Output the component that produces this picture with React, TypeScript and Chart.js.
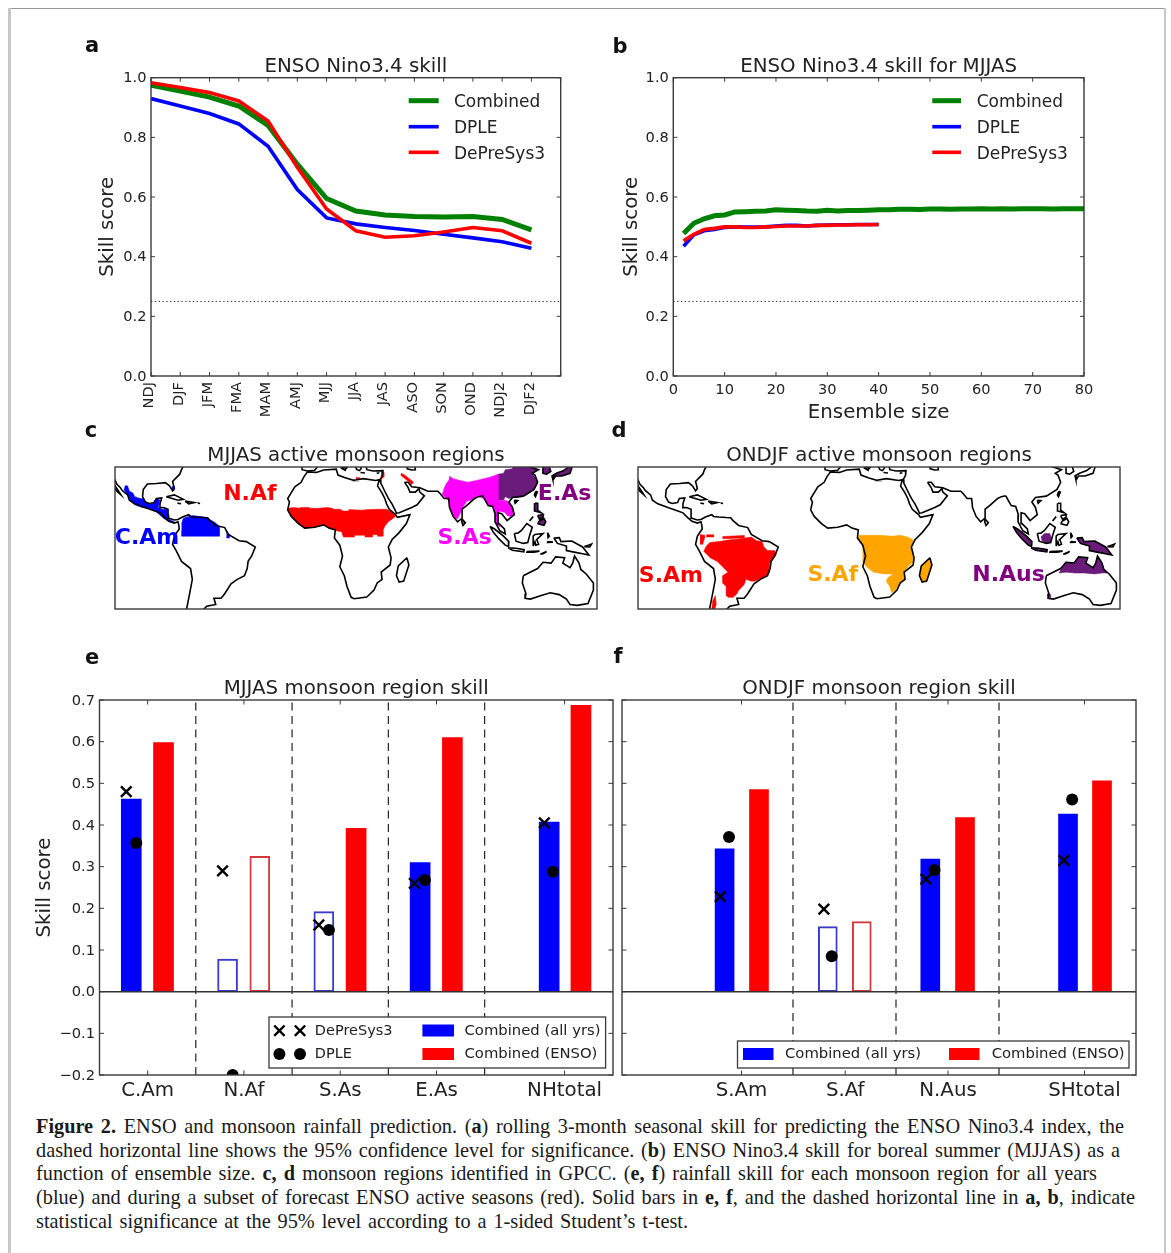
import React, { useEffect, useRef } from "react";
import { Chart, registerables } from "chart.js";

Chart.register(...registerables);

const FONT = "'DejaVu Sans'";
const INK = "#222";
const SPINE = "#3a3a3a";
const TITLE_SIZE = 19.8;
const TICK_SIZE = 14.6;
const TEXT_DY = 2;
const GREEN = "#008000";
const BLUE = "#0000ff";
const RED = "#ff0000";
const PURPLE = "#800080";
const MAGENTA = "#ff00ff";
const ORANGE = "#ffa500";

/* ---------- panels a, b ---------- */
const seasons = ["NDJ", "DJF", "JFM", "FMA", "MAM", "AMJ", "MJJ", "JJA", "JAS", "ASO", "SON", "OND", "NDJ2", "DJF2"];
const seasonCombined = [0.975, 0.955, 0.935, 0.905, 0.84, 0.71, 0.595, 0.553, 0.54, 0.535, 0.533, 0.535, 0.525, 0.49];
const seasonDPLE = [0.93, 0.905, 0.88, 0.845, 0.77, 0.625, 0.53, 0.51, 0.498, 0.488, 0.475, 0.463, 0.45, 0.428];
const seasonDePreSys = [0.983, 0.967, 0.95, 0.922, 0.855, 0.7, 0.56, 0.487, 0.465, 0.47, 0.483, 0.498, 0.487, 0.445];
const significance = 0.25;

const ensembleLong = [2, 4, 6, 8, 10, 12, 14, 16, 18, 20, 22, 24, 26, 28, 30, 32, 34, 36, 38, 40, 42, 44, 46, 48, 50, 52, 54, 56, 58, 60, 62, 64, 66, 68, 70, 72, 74, 76, 78, 80];
const ensembleShort = [2, 4, 6, 8, 10, 12, 14, 16, 18, 20, 22, 24, 26, 28, 30, 32, 34, 36, 38, 40];
const sizeCombined = [0.478, 0.512, 0.527, 0.537, 0.54, 0.55, 0.551, 0.552, 0.553, 0.557, 0.556, 0.555, 0.553, 0.552, 0.556, 0.553, 0.555, 0.555, 0.556, 0.557, 0.557, 0.559, 0.559, 0.558, 0.56, 0.56, 0.559, 0.56, 0.56, 0.561, 0.56, 0.561, 0.56, 0.561, 0.561, 0.561, 0.56, 0.561, 0.561, 0.561];
const sizeDPLE = [0.435, 0.473, 0.487, 0.491, 0.498, 0.5, 0.499, 0.499, 0.5, 0.503, 0.505, 0.505, 0.503, 0.505, 0.506, 0.507, 0.507, 0.508, 0.508, 0.508];
const sizeDePreSys = [0.453, 0.475, 0.491, 0.495, 0.5, 0.5, 0.498, 0.498, 0.5, 0.501, 0.503, 0.503, 0.503, 0.505, 0.505, 0.506, 0.506, 0.507, 0.507, 0.508];

/* ---------- panels e, f ---------- */
const nhRegions = ["C.Am", "N.Af", "S.As", "E.As", "NHtotal"];
const nhTickPos = [0.5, 1.5, 2.5, 3.5, 4.83];
const nhSolidBlue = [[0.33, 0.462], [3.33, 0.31], [4.67, 0.407]];
const nhHollowBlue = [[1.33, 0.078], [2.33, 0.192]];
const nhSolidRed = [[0.665, 0.598], [2.665, 0.392], [3.665, 0.61], [5.0, 0.687]];
const nhHollowRed = [[1.665, 0.325]];
const nhDePreSys = [[0.278, 0.48], [1.278, 0.29], [2.278, 0.16], [3.27, 0.26], [4.62, 0.405]];
const nhDPLE = [[0.382, 0.357], [1.383, -0.2], [2.383, 0.148], [3.38, 0.268], [4.71, 0.288]];
const nhDividers = [1, 2, 3, 4];

const shRegions = ["S.Am", "S.Af", "N.Aus", "SHtotal"];
const shTickPos = [0.5, 1.507, 2.505, 3.83];
const shSolidBlue = [[0.336, 0.343], [2.333, 0.318], [3.67, 0.426]];
const shHollowBlue = [[1.338, 0.156]];
const shSolidRed = [[0.67, 0.485], [2.67, 0.418], [4.0, 0.506]];
const shHollowRed = [[1.668, 0.168]];
const shDePreSys = [[0.294, 0.228], [1.3, 0.198], [2.29, 0.27], [3.63, 0.315]];
const shDPLE = [[0.379, 0.371], [1.376, 0.085], [2.374, 0.292], [3.71, 0.461]];
const shDividers = [1, 2, 3];

/* ---------- maps: coastlines as [lon, lat] ---------- */
type P = number[][];
const pacificAmericas: P = [[-115, 32], [-113, 31.3], [-112, 29], [-110, 27], [-109, 25.5], [-106, 23], [-105, 20], [-102, 18], [-96, 15.8], [-92, 14.5], [-88, 13], [-85.5, 10.5], [-83, 8.3], [-80, 7.3], [-78, 8], [-77.5, 6], [-77.3, 4], [-79, 1.5], [-80, 0], [-81, -4.5], [-79, -8], [-76, -14], [-71, -18], [-70, -24], [-71.5, -32], [-73.5, -42]];
const baja: P = [[-115, 30], [-113, 28], [-111, 25], [-109.7, 23], [-112, 25], [-114, 27.5], [-115, 29]];
const gulfCoast: P = [[-78, 9.3], [-80, 9], [-83, 10], [-83.5, 15], [-86, 16], [-88.5, 15.8], [-88, 18], [-87, 21.3], [-90, 21], [-91, 18.7], [-94, 18.2], [-96, 19], [-97.7, 22], [-97.3, 26], [-95, 29], [-90, 29.3], [-85, 29.8], [-82.7, 28], [-81, 25.2], [-80, 26.5], [-81, 30.5], [-77, 34.5], [-76, 37], [-74, 41]];
const southAtlantic: P = [[-78, 9.3], [-75.5, 10.7], [-72, 12], [-71, 11], [-68, 10.7], [-64, 10.4], [-61.5, 10.3], [-60, 8.5], [-57, 6], [-52, 4.8], [-50, 1], [-44, -2.5], [-40, -3], [-35, -6], [-37, -11], [-39, -14], [-39.5, -18], [-41, -22], [-45, -24], [-48.5, -26.5], [-52, -32], [-54, -34.5], [-58, -34.5], [-57, -38], [-62, -39], [-65, -42]];
const cuba: P = [[-84.5, 22], [-80, 23], [-75, 20.5], [-78, 20], [-84.5, 22]];
const hispaniola: P = [[-74, 19.5], [-69, 18.7], [-72, 18], [-74, 19.5]];
const jamaica: P = [[-78.3, 18.4], [-76.3, 18.1], [-78.3, 18.4]];
const puertoRico: P = [[-67, 18.4], [-65.7, 18.2], [-67, 18.4]];
const africa: P = [[-6, 35.8], [-1, 35.5], [3, 36.8], [10, 37.3], [11, 34], [15, 32.5], [20, 31], [19, 31], [25, 32], [32, 31], [34, 31.5], [33, 28], [35.5, 24], [37, 21], [38, 18], [39.5, 15], [43, 12], [44, 10.5], [51, 12], [49, 7], [45, 2], [41, -2], [39, -6], [40.5, -12], [40, -16], [35, -20], [35.5, -24], [32.8, -26], [31, -30], [27, -33.8], [20, -34.8], [18.3, -34], [16, -28], [14.5, -22], [12, -17], [13.5, -11], [12, -5], [9, -1], [9.5, 3.5], [6, 4.5], [3, 6.3], [-2, 5], [-7.5, 4.5], [-11, 7], [-15, 11], [-17, 14.7], [-16, 19], [-17, 21], [-13, 27.5], [-9.5, 30], [-8, 33], [-6, 35.8]];
const iberia: P = [[-9, 40], [-9, 37], [-6, 36.3], [-2, 36.7], [0, 39], [1, 41]];
const italySouth: P = [[15, 41], [16, 38.2], [17, 39.5], [18.3, 40.2], [19, 41]];
const sicily: P = [[12.5, 38], [15.5, 38.2], [15, 36.7], [12.5, 38]];
const greece: P = [[20, 40], [21.5, 37], [23, 36.5], [24, 38], [23, 40], [26, 41]];
const crete: P = [[23.5, 35.4], [26, 35.2], [23.5, 35.4]];
const cyprus: P = [[32.5, 35], [34, 35.3], [32.5, 35]];
const caspian: P = [[49, 40], [49.5, 37.5], [52, 36.8], [54, 37], [53.5, 40]];
const levantArabia: P = [[26.5, 40], [27, 37], [30.5, 36.3], [36, 36.5], [35.8, 34], [34.5, 31.5], [34.8, 29.5], [37, 25], [39, 21], [41, 18], [43, 14], [43.5, 12.8], [45, 13], [52, 16], [55, 17.5], [59, 22.5], [56.5, 24.5], [56, 26.5], [54, 24.5], [51, 24.5], [50, 27], [48, 30]];
const southAsia: P = [[48, 30], [50, 30], [52, 27.5], [56.5, 27], [61, 25], [66.5, 25], [68, 23.5], [70, 21], [72.5, 21], [73, 16], [75, 11], [77.5, 8], [80, 10], [80, 15], [82.5, 17], [87, 21], [89, 22], [91.5, 22.5]];
const eastAsia: P = [[91.5, 22.5], [94.5, 17], [97, 16.5], [98.5, 12], [98.3, 8], [101, 3], [104, 1.3], [103.5, 4], [100.5, 7], [100, 13], [102, 12.5], [105, 8.7], [109, 12], [108, 16], [106, 19], [108, 21.5], [114, 22.3], [120, 26], [122, 30], [120.5, 34], [119, 35], [122.5, 37], [118, 38.5], [121, 40]];
const korea: P = [[125, 40], [125, 35], [127, 34.5], [129.3, 36], [128, 40]];
const japan: P = [[130.5, 31.3], [132, 33.5], [135.5, 33.5], [140, 35], [141, 38], [141.7, 41], [140, 41], [139.8, 39], [136.5, 36.5], [132.5, 35], [130, 33.5], [130.5, 31.3]];
const taiwan: P = [[121, 25], [121.8, 24.5], [120.8, 22], [120.2, 23], [121, 25]];
const hainan: P = [[109, 20], [111, 19.8], [109.5, 18.3], [109, 20]];
const sriLanka: P = [[80, 9.5], [81.8, 7.5], [80.5, 6], [79.8, 8], [80, 9.5]];
const luzon: P = [[120.5, 18.3], [122, 18.3], [122, 14.5], [124, 13], [120.5, 14], [120, 16], [120.5, 18.3]];
const visayas: P = [[122, 11.5], [125, 12], [125, 10.5], [123, 9.5], [122, 11.5]];
const mindanao: P = [[122, 7], [125.5, 6], [126.5, 8], [125.5, 9.8], [123, 8.5], [122, 7]];
const palawan: P = [[117.5, 8.5], [119.5, 11], [118.8, 10], [117.5, 8.5]];
const borneo: P = [[109, 1.5], [111, 1.7], [113, 3.2], [116, 7], [119, 5], [117.7, 1], [116.5, -3.5], [114, -4], [110, -2.8], [109, 1.5]];
const sumatra: P = [[95.5, 5.5], [98, 4], [103, 0], [106, -3], [105.8, -5.8], [104, -5], [100.5, -1.5], [97.5, 2], [95.5, 5.5]];
const java: P = [[105.5, -6.5], [110, -6.7], [114.5, -7.5], [114.3, -8.7], [108, -7.8], [105.5, -6.5]];
const sulawesi: P = [[119.5, -5.5], [120.5, -3], [121, -5], [122.5, -4.5], [121.5, -1.8], [125, 1.5], [120.5, 1], [119.5, 0], [119.5, -5.5]];
const halmahera: P = [[127.5, 2], [128.5, 0], [127.8, -0.8], [127.5, 2]];
const seram: P = [[127.5, -3], [130.5, -3.3], [127.5, -3.4], [127.5, -3]];
const flores: P = [[116, -8.5], [123, -8.3], [120, -8.9], [116, -8.9], [116, -8.5]];
const timor: P = [[123.5, -10], [127, -8.5], [125, -9.8], [123.5, -10]];
const newGuinea: P = [[131, -1], [134, -0.8], [135, -3], [141, -2.7], [147, -6], [150.5, -10.5], [147, -9.8], [143, -9], [138, -8], [138, -5.5], [133, -4], [131, -1]];
const newBritain: P = [[148, -5.8], [152, -4.3], [151, -6], [148, -5.8]];
const australia: P = [[114, -22], [113.5, -26], [115.5, -32], [115, -34.5], [118, -35], [124, -33], [129, -31.5], [134, -32.5], [138, -35], [140, -38], [144, -38.5], [150, -37.5], [153, -30], [153, -26], [149, -21], [146, -18.5], [145, -15], [142.5, -11], [141.5, -15], [140, -17.5], [136, -15], [137, -12], [132, -11.5], [129.5, -15], [125, -14.5], [122, -18], [117, -20.5], [114, -22]];
const madagascar: P = [[49.3, -12], [50.4, -16], [47.5, -25], [45, -25.5], [43.5, -22], [44.5, -16.5], [49.3, -12]];
const coastlines: P[] = [pacificAmericas, baja, gulfCoast, southAtlantic, cuba, hispaniola, jamaica, puertoRico, africa, iberia, italySouth, sicily, greece, crete, cyprus, caspian, levantArabia, southAsia, eastAsia, korea, japan, taiwan, hainan, sriLanka, luzon, visayas, mindanao, palawan, borneo, sumatra, java, sulawesi, halmahera, seram, flores, timor, newGuinea, newBritain, australia, madagascar];

/* ---------- maps: monsoon regions ---------- */
const cAmMexico: P = [[-107.5, 28], [-106, 28], [-105, 25], [-103, 24], [-102, 22], [-99, 21], [-97.5, 21], [-96, 19], [-94, 18], [-92, 18], [-91, 20], [-89, 21], [-88, 20], [-89, 16], [-87, 15], [-84, 15], [-83.5, 12], [-83, 9.5], [-80, 8], [-83, 8], [-86, 10], [-90, 13.5], [-94, 15.5], [-98, 16], [-102, 17.5], [-105, 20], [-106, 23], [-108, 26]];
const cAmFlorida: P = [[-81.5, 27.5], [-80.5, 27.8], [-80.2, 25.5], [-81, 25.2]];
const cAmSouth: P = [[-76, 7], [-75, 10], [-72, 11], [-70, 11.5], [-66, 11], [-62, 10.5], [-60, 9], [-58, 8], [-56, 6.5], [-55, 5], [-55, 0], [-76, 0], [-76, 3]];
const cAmGuiana: P = [[-51, 3], [-49.5, 1], [-49.5, -1], [-51, -1]];
const nAfBelt: P = [[-17, 15.5], [-14, 16], [-10, 15.5], [-10, 16], [-5, 16], [-5, 15.5], [0, 15.5], [5, 16], [8, 15.5], [8, 15], [12, 15], [14, 14], [17, 14], [17, 14.8], [24, 14.5], [28, 14.8], [33, 15], [38, 15], [40, 14], [42, 12.5], [43, 11], [41, 9.5], [39, 8], [37, 5.5], [36, 3], [36, 0], [33, 0], [33, 0.8], [30, 0.8], [30, -0.5], [26, -0.5], [26, 0.5], [20, 0.5], [20, -0.5], [14, -0.5], [13, 2.5], [10, 3], [9, 4], [6, 4.5], [3, 6.3], [-2, 5], [-7.5, 4.5], [-11, 7], [-15, 11], [-17, 14.7]];
const nAfLevant: P = [[35, 36], [36.3, 35.5], [36.5, 33], [35.3, 32], [35, 34]];
const nAfLibya: P = [[21, 32.8], [23, 32.5], [23, 31.8], [21, 32]];
const nAfZagros: P = [[46, 35], [48, 34], [50, 32.5], [53, 30], [52, 28.7], [49.5, 31], [47.5, 32.5], [45.8, 34]];
const sAsMain: P = [[73, 33.5], [75, 32], [79, 31], [83, 30], [88, 31], [92, 32], [96, 33], [100, 34.5], [100, 20], [104, 20], [106, 19], [108, 16], [108, 15], [109, 12.5], [107, 11], [105, 11.5], [104, 13], [101, 14], [100, 13], [99.8, 9], [101, 5], [99, 7], [98.5, 9], [98, 13], [97, 16.5], [94.5, 17], [92, 21], [89, 22], [87, 21], [85, 20], [82.5, 19.5], [80, 15], [77.5, 9.6], [75, 11], [73, 16], [72.5, 20], [71, 21], [69, 23.4], [70, 26.5], [71, 29], [72.5, 31]];
const eAsMain: P = [[100, 20], [100, 34.5], [103, 35], [104, 37], [108, 37.5], [108, 40], [121, 40], [119, 38], [122, 37], [119, 35], [121, 32], [122, 30], [120, 26], [115, 22.5], [111, 21.5], [108, 21.5], [106, 21], [104, 22], [103, 20]];
const sAmMain: P = [[-76.5, -8.5], [-75, -5.5], [-73, -3.5], [-68, -3], [-62, -2], [-57, -1.5], [-50, -0.5], [-47, -2.5], [-44, -3], [-43, -6], [-41, -8], [-37, -8], [-36, -10], [-38, -13], [-40, -15], [-40, -20], [-42, -22.5], [-45, -23.5], [-48, -25], [-50, -25], [-53, -24], [-54, -27], [-57, -30], [-58, -32], [-60, -34], [-63, -34], [-64, -33], [-64, -28], [-66, -26], [-66, -22], [-63, -20], [-66, -17], [-69, -14], [-73, -12]];
const sAmEcuador: P = [[-78.5, 1], [-76, 0.5], [-76, -1], [-77, -4.5], [-78.5, -4.5]];
const sAmNorthSpots: P = [[-75, 0.8], [-71, 0.8], [-71, -0.5], [-75, -0.5]];
const sAmNorthSpots2: P = [[-66, -0.2], [-54, 0.4], [-54, -1], [-66, -1.4]];
const sAmChile: P = [[-72, -41], [-71.5, -36], [-70, -33], [-69.5, -38], [-70.5, -41]];
const sAfMain: P = [[9, -1], [10, 0.5], [15, 0.5], [22, 0.5], [28, 0], [33, 0.5], [37, -0.5], [40, -2], [39, -6], [40, -9], [40.5, -14], [37, -17], [35, -20], [35.5, -24], [32.8, -26], [30, -30], [28, -31.5], [27, -28], [25, -25], [26, -23], [29, -21], [24, -21], [18, -20], [14, -17], [12, -14], [12, -8], [12, -5]];
const nAusMain: P = [[122, -18.5], [125, -14.5], [129, -15], [132, -11.5], [136, -12], [136, -15], [140, -17.5], [141.5, -15], [142.5, -11], [145, -15], [146, -18.5], [148, -20.5], [145, -20.5], [141, -21], [135, -20.5], [130, -20.5], [125, -20], [121, -20.5]];
const nAusSouthWest: P = [[115, -31.5], [115.5, -32], [115, -34.5], [116.5, -34.8], [116.5, -32.5]];
const nAusBorneo: P = [[111, -0.5], [113, 1.5], [116, 1.5], [116.8, -1], [116.5, -3.5], [114, -4], [111.5, -2.5]];

const regionsC = [
  { color: BLUE, polys: [cAmMexico, cAmFlorida, cAmSouth, cAmGuiana] },
  { color: RED, polys: [nAfBelt, nAfLevant, nAfLibya, nAfZagros] },
  { color: MAGENTA, polys: [sAsMain, sriLanka] },
  { color: "#6a1b7c", polys: [eAsMain, korea, japan, luzon, visayas, mindanao, taiwan, hainan] },
];
const regionsD = [
  { color: RED, polys: [sAmMain, sAmEcuador, sAmNorthSpots, sAmNorthSpots2, sAmChile] },
  { color: ORANGE, polys: [sAfMain, madagascar] },
  { color: "#6a1b7c", polys: [nAusMain, nAusSouthWest, nAusBorneo, sumatra, java, newGuinea, flores, timor] },
];
const labelsC = [["N.Af", -38, 24, RED], ["C.Am", -95.2, -0.4, BLUE], ["S.As", 81.4, -0.4, MAGENTA], ["E.As", 137, 24, PURPLE]];
const labelsD = [["S.Am", -94.7, -21.6, RED], ["S.Af", -4.7, -21, ORANGE], ["N.Aus", 93, -21, PURPLE]];

/* ---------- caption ---------- */
const captionLines: { w: number; top: number; parts: [string, boolean][] }[] = [
  { w: 1088, top: 1115, parts: [["Figure 2.", true], [" ENSO and monsoon rainfall prediction. (", false], ["a", true], [") rolling 3-month seasonal skill for predicting the ENSO Nino3.4 index, the", false]] },
  { w: 1084, top: 1139, parts: [["dashed horizontal line shows the 95% confidence level for significance. (", false], ["b", true], [") ENSO Nino3.4 skill for boreal summer (MJJAS) as a", false]] },
  { w: 1061, top: 1162, parts: [["function of ensemble size. ", false], ["c, d", true], [" monsoon regions identified in GPCC. (", false], ["e, f", true], [") rainfall skill for each monsoon region for all years", false]] },
  { w: 1099, top: 1186, parts: [["(blue) and during a subset of forecast ENSO active seasons (red). Solid bars in ", false], ["e, f", true], [", and the dashed horizontal line in ", false], ["a, b", true], [", indicate", false]] },
  { w: 652, top: 1210, parts: [["statistical significance at the 95% level according to a 1-sided Student’s t-test.", false]] },
];

/* ---------- helpers ---------- */
type Rect = { l: number; t: number; r: number; b: number };
const pts = (xs: number[], ys: number[]) => xs.map((x, i) => ({ x, y: ys[i] }));
const xy = (a: number[][]) => a.map(([x, y]) => ({ x, y }));
const font = (size: number, bold = false) => `${bold ? "bold " : ""}${size}px ${FONT}`;

function titleOpts(text: string, c: Rect, p: Rect, titleY: number) {
  const h = TITLE_SIZE * 1.2;
  const y = titleY + 1.7;
  return {
    padding: { top: y - h / 2 - c.t, right: c.r - p.r },
    title: {
      display: true,
      text,
      color: INK,
      fullSize: false,
      padding: { top: 0, bottom: p.t - (y + h / 2) },
      font: { family: FONT, size: TITLE_SIZE, weight: "normal", lineHeight: 1.2 },
    },
  };
}

function drawFrame(chart: any, tick: number) {
  const { ctx, chartArea: a, scales } = chart;
  ctx.save();
  ctx.strokeStyle = SPINE;
  ctx.lineWidth = 1;
  ctx.beginPath();
  if (tick > 0) {
    for (const t of scales.x.ticks) {
      const x = scales.x.getPixelForValue(t.value);
      ctx.moveTo(x, a.bottom);
      ctx.lineTo(x, a.bottom - tick);
      ctx.moveTo(x, a.top);
      ctx.lineTo(x, a.top + tick);
    }
    for (const t of scales.y.ticks) {
      const y = scales.y.getPixelForValue(t.value);
      ctx.moveTo(a.left, y);
      ctx.lineTo(a.left + tick, y);
      ctx.moveTo(a.right, y);
      ctx.lineTo(a.right - tick, y);
    }
  }
  ctx.stroke();
  ctx.lineWidth = 1.4;
  ctx.strokeRect(a.left, a.top, a.right - a.left, a.bottom - a.top);
  ctx.restore();
}

function letter(ctx: any, c: Rect, s: string, x: number, y: number) {
  ctx.save();
  ctx.font = font(21, true);
  ctx.fillStyle = "#111";
  ctx.textAlign = "center";
  ctx.textBaseline = "middle";
  ctx.fillText(s, x - c.l, y + TEXT_DY - c.t);
  ctx.restore();
}

function legendText(ctx: any, c: Rect, s: string, x: number, y: number, size: number) {
  ctx.font = font(size);
  ctx.fillStyle = INK;
  ctx.textAlign = "left";
  ctx.textBaseline = "middle";
  ctx.fillText(s, x - c.l, y + TEXT_DY - c.t);
}

/* ---------- line panels ---------- */
function lineConfig(o: {
  c: Rect; p: Rect; title: string; mark: string; markX: number; markY: number; yTitleX: number;
  datasets: any[]; x: any; legendLine: [number, number]; legendTextX: number;
}) {
  const { c, p } = o;
  const head = titleOpts(o.title, c, p, 65);
  const legendYs = [100.7, 126.7, 152.3];
  return {
    type: "scatter",
    data: { datasets: o.datasets },
    options: {
      animation: false,
      responsive: false,
      events: [],
      layout: { padding: { left: 0, bottom: 0, ...head.padding } },
      plugins: { legend: { display: false }, tooltip: { enabled: false }, title: head.title },
      scales: {
        x: { ...o.x, afterFit: (s: any) => { s.height = c.b - p.b; } },
        y: {
          min: 0, max: 1,
          grid: { display: false, drawTicks: false },
          border: { display: false },
          ticks: { stepSize: 0.2, padding: 4.5, labelOffset: 1, color: INK, font: { family: FONT, size: TICK_SIZE }, callback: (v: number) => v.toFixed(1) },
          title: { display: true, text: "Skill score", color: INK, font: { family: FONT, size: TITLE_SIZE }, padding: o.yTitleX + TEXT_DY - c.l - (TITLE_SIZE * 1.2) / 2 },
          afterFit: (s: any) => { s.width = p.l - c.l; },
        },
      },
    },
    plugins: [{
      id: "overlay",
      afterDraw(chart: any) {
        const ctx = chart.ctx;
        drawFrame(chart, 4);
        letter(ctx, c, o.mark, o.markX, o.markY);
        ctx.save();
        ["Combined", "DPLE", "DePreSys3"].forEach((name, i) => {
          const ds = chart.data.datasets.find((d: any) => d.label === name);
          ctx.strokeStyle = ds.borderColor;
          ctx.lineWidth = ds.borderWidth;
          ctx.beginPath();
          ctx.moveTo(o.legendLine[0] - c.l, legendYs[i] - c.t);
          ctx.lineTo(o.legendLine[1] - c.l, legendYs[i] - c.t);
          ctx.stroke();
          legendText(ctx, c, name, o.legendTextX, legendYs[i], 17);
        });
        ctx.restore();
      },
    }],
  };
}

const lineSet = (label: string, data: any[], color: string, width: number, order: number) => ({
  label, data, borderColor: color, backgroundColor: color, borderWidth: width, showLine: true, pointRadius: 0, order, tension: 0,
});
const dotted = (x0: number, x1: number) => ({
  label: "95% significance", data: [{ x: x0, y: significance }, { x: x1, y: significance }],
  borderColor: "#333", borderWidth: 1, borderDash: [1.4, 2.4], showLine: true, pointRadius: 0, order: 9,
});

const rectA: Rect = { l: 60, t: 25, r: 585, b: 430 };
const plotA: Rect = { l: 151, t: 77.7, r: 560.7, b: 376 };
const rectB: Rect = { l: 600, t: 25, r: 1105, b: 430 };
const plotB: Rect = { l: 673.3, t: 77.7, r: 1084, b: 376 };

const seasonIdx = seasons.map((_, i) => i);
const configA = () => lineConfig({
  c: rectA, p: plotA, title: "ENSO Nino3.4 skill", mark: "a", markX: 92, markY: 45, yTitleX: 106,
  legendLine: [408.7, 438.7], legendTextX: 454,
  datasets: [
    lineSet("DePreSys3", pts(seasonIdx, seasonDePreSys), RED, 3.6, 1),
    lineSet("DPLE", pts(seasonIdx, seasonDPLE), BLUE, 3.6, 2),
    lineSet("Combined", pts(seasonIdx, seasonCombined), GREEN, 5, 3),
    dotted(0, 14),
  ],
  x: {
    type: "linear", min: 0, max: 14,
    grid: { display: false, drawTicks: false },
    border: { display: false },
    ticks: {
      stepSize: 1, autoSkip: false, maxRotation: 90, minRotation: 90, padding: 6, labelOffset: -1.5, color: INK,
      font: { family: FONT, size: TICK_SIZE }, callback: (v: number) => seasons[v] ?? "",
    },
  },
});
const configB = () => lineConfig({
  c: rectB, p: plotB, title: "ENSO Nino3.4 skill for MJJAS", mark: "b", markX: 620, markY: 46, yTitleX: 630,
  legendLine: [932.3, 961], legendTextX: 976.7,
  datasets: [
    lineSet("DePreSys3", pts(ensembleShort, sizeDePreSys), RED, 3.6, 1),
    lineSet("DPLE", pts(ensembleShort, sizeDPLE), BLUE, 3.6, 2),
    lineSet("Combined", pts(ensembleLong, sizeCombined), GREEN, 5, 3),
    dotted(0, 80),
  ],
  x: {
    type: "linear", min: 0, max: 80,
    grid: { display: false, drawTicks: false },
    border: { display: false },
    ticks: { stepSize: 10, maxRotation: 0, padding: 5, color: INK, font: { family: FONT, size: TICK_SIZE } },
    title: { display: true, text: "Ensemble size", color: INK, font: { family: FONT, size: TITLE_SIZE }, padding: 430 - 411 - TEXT_DY - (TITLE_SIZE * 1.2) / 2 },
  },
});

/* ---------- map panels ---------- */
function mapConfig(c: Rect, p: Rect, title: string, mark: string, markX: number, markY: number, regions: any[], labels: any[]) {
  const head = titleOpts(title, c, p, 454);
  const fills = regions.flatMap((r) => r.polys.map((poly: P) => ({
    label: "region", data: xy(poly), showLine: true, pointRadius: 0, borderWidth: 0.5, borderColor: r.color,
    backgroundColor: r.color, fill: "shape", order: 5,
  })));
  const coastPoints: any[] = [];
  coastlines.forEach((poly, i) => {
    if (i > 0) coastPoints.push({ x: null, y: null });
    coastPoints.push(...xy(poly));
  });
  const coasts = [{
    label: "coast", data: coastPoints, showLine: true, spanGaps: false, pointRadius: 0, borderWidth: 1.6, borderColor: "#000", fill: false, order: 1,
  }];
  return {
    type: "scatter",
    data: { datasets: [...coasts, ...fills] },
    options: {
      animation: false,
      responsive: false,
      events: [],
      layout: { padding: { left: p.l - c.l, bottom: c.b - p.b, ...head.padding } },
      plugins: { legend: { display: false }, tooltip: { enabled: false }, title: head.title },
      scales: {
        x: { type: "linear", min: -113, max: 155, display: false },
        y: { type: "linear", min: -40.5, max: 38.5, display: false },
      },
    },
    plugins: [{
      id: "overlay",
      afterDraw(chart: any) {
        const { ctx, scales } = chart;
        drawFrame(chart, 0);
        letter(ctx, c, mark, markX, markY);
        ctx.save();
        ctx.font = font(22, true);
        ctx.textAlign = "center";
        ctx.textBaseline = "middle";
        for (const [s, lon, lat, color] of labels) {
          ctx.fillStyle = color;
          ctx.fillText(s, scales.x.getPixelForValue(lon), scales.y.getPixelForValue(lat) + TEXT_DY - 1);
        }
        ctx.restore();
      },
    }],
  };
}
const rectC: Rect = { l: 80, t: 418, r: 605, b: 615 };
const plotC: Rect = { l: 115, t: 467, r: 597, b: 609 };
const rectD: Rect = { l: 608, t: 418, r: 1130, b: 615 };
const plotD: Rect = { l: 638, t: 467, r: 1120, b: 609 };
const configC = () => mapConfig(rectC, plotC, "MJJAS active monsoon regions", "c", 91, 430, regionsC, labelsC);
const configD = () => mapConfig(rectD, plotD, "ONDJF active monsoon regions", "d", 619, 430, regionsD, labelsD);

/* ---------- bar panels ---------- */
function barConfig(o: {
  c: Rect; p: Rect; title: string; mark: string; markX: number; markY: number; xMin: number; xMax: number;
  tickPos: number[]; tickNames: string[]; dividers: number[]; solidBlue: number[][]; hollowBlue: number[][];
  solidRed: number[][]; hollowRed: number[][]; dePreSys: number[][]; dple: number[][]; showY: boolean; barW: number;
  legend: (ctx: any) => void;
}) {
  const { c, p } = o;
  const head = titleOpts(o.title, c, p, 687);
  const solid = (label: string, d: number[][], color: string) => ({ type: "bar", label, data: xy(d), backgroundColor: color, borderColor: color, borderWidth: 0, barThickness: o.barW, grouped: false, order: 6 });
  const hollow = (label: string, d: number[][], color: string) => ({ type: "bar", label, data: xy(d), backgroundColor: "rgba(255,255,255,0)", borderColor: color, borderWidth: 1.3, borderSkipped: false, barThickness: o.barW, grouped: false, order: 6 });
  return {
    type: "bar",
    data: {
      datasets: [
        { type: "scatter", label: "DePreSys3", data: xy(o.dePreSys), pointStyle: "crossRot", pointRadius: 7.5, pointBorderColor: "#000", pointBorderWidth: 2.4, order: 1 },
        { type: "scatter", label: "DPLE", data: xy(o.dple), pointStyle: "circle", pointRadius: 6, pointBackgroundColor: "#000", pointBorderColor: "#000", pointBorderWidth: 0, order: 1 },
        solid("Combined (all yrs)", o.solidBlue, BLUE),
        solid("Combined (ENSO)", o.solidRed, RED),
        hollow("Not significant (all yrs)", o.hollowBlue, "#3a3acb"),
        hollow("Not significant (ENSO)", o.hollowRed, "#d03a3a"),
        { type: "scatter", label: "zero", data: [{ x: o.xMin, y: 0 }, { x: o.xMax, y: 0 }], showLine: true, pointRadius: 0, borderColor: "#333", borderWidth: 1.5, order: 3 },
        ...o.dividers.map((x) => ({ type: "scatter", label: "divider", data: [{ x, y: -0.2 }, { x, y: 0.7 }], showLine: true, pointRadius: 0, borderColor: "#222", borderWidth: 1.2, borderDash: [8, 5.5], order: 4 })),
      ],
    },
    options: {
      animation: false,
      responsive: false,
      events: [],
      layout: { padding: { left: 0, bottom: 0, ...head.padding } },
      plugins: { legend: { display: false }, tooltip: { enabled: false }, title: head.title },
      scales: {
        x: {
          type: "linear", min: o.xMin, max: o.xMax, offset: false,
          grid: { display: false, drawTicks: false },
          border: { display: false },
          afterBuildTicks: (s: any) => { s.ticks = o.tickPos.map((value) => ({ value })); },
          ticks: {
            autoSkip: false, maxRotation: 0, padding: 4, color: INK, font: { family: FONT, size: TITLE_SIZE },
            callback: (v: number) => o.tickNames[o.tickPos.indexOf(v)] ?? "",
          },
          afterFit: (s: any) => { s.height = c.b - p.b; },
        },
        y: {
          type: "linear", min: -0.2, max: 0.7,
          grid: { display: false, drawTicks: false },
          border: { display: false },
          ticks: {
            stepSize: 0.1, padding: 4.5, labelOffset: 1, color: INK, font: { family: FONT, size: TICK_SIZE },
            callback: (v: number) => (o.showY ? (Math.abs(v) < 1e-9 ? "0.0" : v.toFixed(1).replace("-", "\u2212")) : ""),
          },
          title: o.showY
            ? { display: true, text: "Skill score", color: INK, font: { family: FONT, size: TITLE_SIZE }, padding: 43 + TEXT_DY - c.l - (TITLE_SIZE * 1.2) / 2 }
            : { display: false },
          afterFit: (s: any) => { s.width = p.l - c.l; },
        },
      },
    },
    plugins: [{
      id: "overlay",
      afterDraw(chart: any) {
        const ctx = chart.ctx;
        drawFrame(chart, 4.5);
        letter(ctx, c, o.mark, o.markX, o.markY);
        o.legend(ctx);
      },
    }],
  };
}

function legendBox(ctx: any, c: Rect, l: number, t: number, r: number, b: number) {
  ctx.fillStyle = "#fff";
  ctx.strokeStyle = SPINE;
  ctx.lineWidth = 1.3;
  ctx.fillRect(l - c.l, t - c.t, r - l, b - t);
  ctx.strokeRect(l - c.l, t - c.t, r - l, b - t);
}
function legendCross(ctx: any, c: Rect, x: number, y: number) {
  const r = 5.2;
  ctx.strokeStyle = "#000";
  ctx.lineWidth = 2.4;
  ctx.beginPath();
  ctx.moveTo(x - r - c.l, y - r - c.t);
  ctx.lineTo(x + r - c.l, y + r - c.t);
  ctx.moveTo(x + r - c.l, y - r - c.t);
  ctx.lineTo(x - r - c.l, y + r - c.t);
  ctx.stroke();
}
function legendDot(ctx: any, c: Rect, x: number, y: number) {
  ctx.fillStyle = "#000";
  ctx.beginPath();
  ctx.arc(x - c.l, y - c.t, 6, 0, Math.PI * 2);
  ctx.fill();
}

const rectE: Rect = { l: 25, t: 640, r: 665, b: 1110 };
const plotE: Rect = { l: 99.5, t: 700, r: 613, b: 1075 };
const rectF: Rect = { l: 605, t: 640, r: 1165, b: 1110 };
const plotF: Rect = { l: 622, t: 700, r: 1136, b: 1075 };

const configE = () => barConfig({
  c: rectE, p: plotE, title: "MJJAS monsoon region skill", mark: "e", markX: 92, markY: 657,
  xMin: 0, xMax: 5.333, tickPos: nhTickPos, tickNames: nhRegions, dividers: nhDividers,
  solidBlue: nhSolidBlue, hollowBlue: nhHollowBlue, solidRed: nhSolidRed, hollowRed: nhHollowRed,
  dePreSys: nhDePreSys, dple: nhDPLE, showY: true, barW: 20,
  legend: (ctx) => {
    ctx.save();
    const c = rectE;
    legendBox(ctx, c, 269, 1017, 605.6, 1068);
    legendCross(ctx, c, 279.4, 1030.7);
    legendCross(ctx, c, 300, 1030.7);
    legendDot(ctx, c, 279.4, 1054);
    legendDot(ctx, c, 300, 1054);
    legendText(ctx, c, "DePreSys3", 314.8, 1029.5, 14.5);
    legendText(ctx, c, "DPLE", 314.8, 1052.5, 14.5);
    ctx.fillStyle = BLUE;
    ctx.fillRect(422.4 - c.l, 1024.5 - c.t, 31.6, 12);
    ctx.fillStyle = RED;
    ctx.fillRect(422.4 - c.l, 1048 - c.t, 31.6, 12);
    legendText(ctx, c, "Combined (all yrs)", 464.5, 1029.5, 14.8);
    legendText(ctx, c, "Combined (ENSO)", 464.5, 1052.5, 14.8);
    ctx.restore();
  },
});
const configF = () => barConfig({
  c: rectF, p: plotF, title: "ONDJF monsoon region skill", mark: "f", markX: 618, markY: 656,
  xMin: -0.66, xMax: 4.33, tickPos: shTickPos, tickNames: shRegions, dividers: shDividers,
  solidBlue: shSolidBlue, hollowBlue: shHollowBlue, solidRed: shSolidRed, hollowRed: shHollowRed,
  dePreSys: shDePreSys, dple: shDPLE, showY: false, barW: 19,
  legend: (ctx) => {
    ctx.save();
    const c = rectF;
    legendBox(ctx, c, 737.5, 1041, 1129, 1068);
    ctx.fillStyle = BLUE;
    ctx.fillRect(743 - c.l, 1048 - c.t, 30.5, 12);
    ctx.fillStyle = RED;
    ctx.fillRect(949 - c.l, 1048 - c.t, 30.5, 12);
    legendText(ctx, c, "Combined (all yrs)", 785, 1052.5, 14.8);
    legendText(ctx, c, "Combined (ENSO)", 991.7, 1052.5, 14.8);
    ctx.restore();
  },
});

const panels: { rect: Rect; make: () => any }[] = [
  { rect: rectA, make: configA },
  { rect: rectB, make: configB },
  { rect: rectC, make: configC },
  { rect: rectD, make: configD },
  { rect: rectE, make: configE },
  { rect: rectF, make: configF },
];

function Panel({ rect, make }: { rect: Rect; make: () => any }) {
  const ref = useRef<HTMLCanvasElement>(null);
  useEffect(() => {
    const chart = new Chart(ref.current as any, make());
    return () => chart.destroy();
  }, []);
  const w = rect.r - rect.l;
  const h = rect.b - rect.t;
  return (
    <canvas
      ref={ref}
      width={w}
      height={h}
      style={{ position: "absolute", left: rect.l, top: rect.t, width: w, height: h, filter: "blur(0.5px)" }}
    />
  );
}

export default function App() {
  return (
    <div style={{ position: "absolute", left: 0, top: 0, width: 1171, height: 1253, background: "#fff", overflow: "hidden" }}>
      <div style={{ position: "absolute", left: 8, top: 8, width: 1158, height: 1, background: "#999" }} />
      <div style={{ position: "absolute", left: 8, top: 8, width: 2.5, height: 1245, background: "#c8c8c8" }} />
      <div style={{ position: "absolute", left: 1163.5, top: 8, width: 2.5, height: 1245, background: "#c8c8c8" }} />
      {panels.map((p, i) => <Panel key={i} rect={p.rect} make={p.make} />)}
      {captionLines.map((line, i) => (
        <div
          key={i}
          style={{
            position: "absolute", left: 36, top: line.top, width: line.w, whiteSpace: "nowrap",
            fontFamily: "'Liberation Serif'", fontSize: 20.3, lineHeight: "23px", color: "#1a1a1a",
            textAlign: "justify", textAlignLast: "justify",
          }}
        >
          {line.parts.map(([t, b], j) => (b ? <b key={j}>{t}</b> : <span key={j}>{t}</span>))}
        </div>
      ))}
    </div>
  );
}
